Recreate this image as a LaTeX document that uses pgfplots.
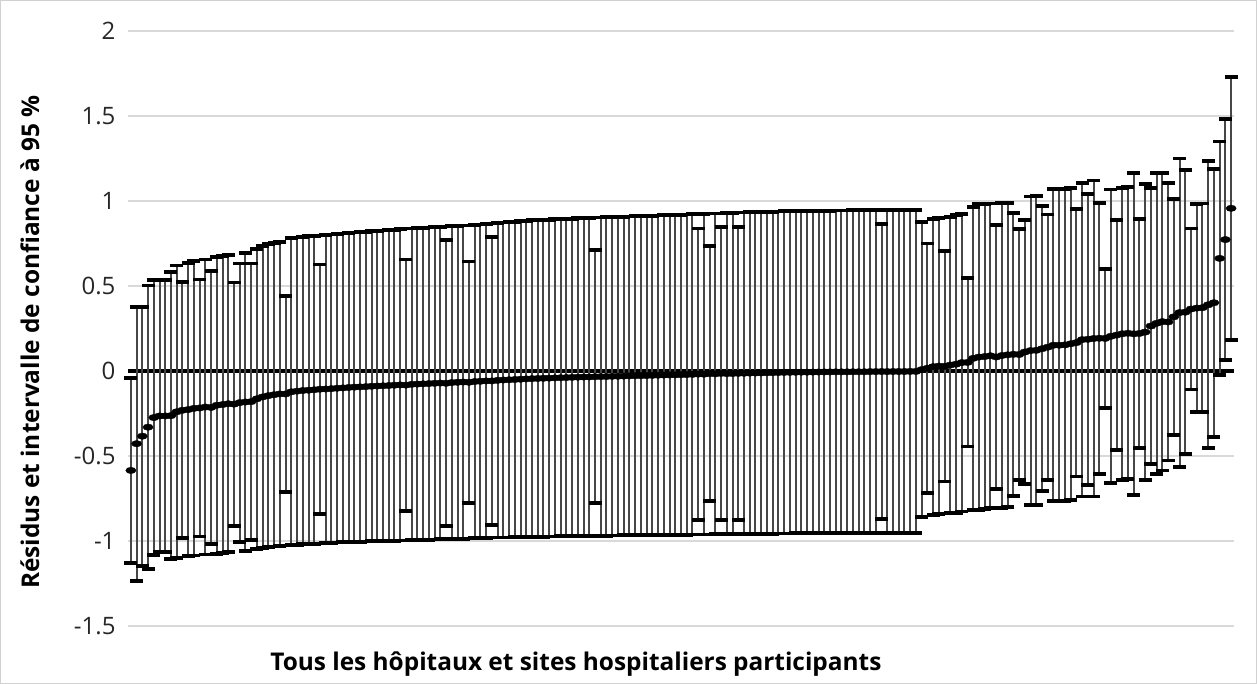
\documentclass[border=0pt]{standalone}
\usepackage{fontspec}
\setmainfont{Open Sans}
\usepackage{pgfplots}
\usepackage{pgfplotstable}
\pgfplotsset{compat=1.18}
\pgfplotstableread[row sep=\\]{
i U L\\
1 -0.040 -1.130\\ 2 0.378 -1.233\\ 3 0.378 -1.145\\ 4 0.503 -1.164\\ 5 0.534 -1.082\\
6 0.534 -1.063\\ 7 0.534 -1.063\\ 8 0.580 -1.105\\ 9 0.620 -1.100\\ 10 0.522 -0.984\\
11 0.636 -1.090\\ 12 0.645 -1.085\\ 13 0.538 -0.973\\ 14 0.656 -1.080\\ 15 0.587 -1.016\\
16 0.672 -1.075\\ 17 0.675 -1.070\\ 18 0.680 -1.065\\ 19 0.520 -0.910\\ 20 0.632 -1.004\\
21 0.695 -1.060\\ 22 0.632 -0.992\\ 23 0.718 -1.045\\ 24 0.735 -1.040\\ 25 0.745 -1.035\\
26 0.753 -1.032\\ 27 0.760 -1.030\\ 28 0.440 -0.710\\ 29 0.780 -1.025\\ 30 0.785 -1.022\\
31 0.790 -1.020\\ 32 0.792 -1.018\\ 33 0.795 -1.016\\ 34 0.626 -0.840\\ 35 0.800 -1.012\\
36 0.803 -1.011\\ 37 0.806 -1.009\\ 38 0.809 -1.008\\ 39 0.812 -1.006\\ 40 0.815 -1.005\\
41 0.817 -1.004\\ 42 0.819 -1.003\\ 43 0.822 -1.002\\ 44 0.824 -1.001\\ 45 0.826 -1.000\\
46 0.828 -0.999\\ 47 0.831 -0.998\\ 48 0.833 -0.997\\ 49 0.656 -0.822\\ 50 0.838 -0.995\\
51 0.840 -0.994\\ 52 0.842 -0.993\\ 53 0.844 -0.992\\ 54 0.846 -0.991\\ 55 0.848 -0.990\\
56 0.769 -0.914\\ 57 0.852 -0.988\\ 58 0.854 -0.987\\ 59 0.856 -0.986\\ 60 0.644 -0.777\\
61 0.860 -0.984\\ 62 0.862 -0.983\\ 63 0.865 -0.982\\ 64 0.789 -0.906\\ 65 0.870 -0.980\\
66 0.873 -0.979\\ 67 0.876 -0.979\\ 68 0.878 -0.978\\ 69 0.881 -0.978\\ 70 0.884 -0.977\\
71 0.886 -0.976\\ 72 0.887 -0.975\\ 73 0.889 -0.975\\ 74 0.890 -0.974\\ 75 0.892 -0.973\\
76 0.893 -0.972\\ 77 0.895 -0.972\\ 78 0.896 -0.971\\ 79 0.898 -0.971\\ 80 0.899 -0.970\\
81 0.900 -0.970\\ 82 0.710 -0.777\\ 83 0.903 -0.969\\ 84 0.904 -0.969\\ 85 0.905 -0.968\\
86 0.906 -0.968\\ 87 0.907 -0.967\\ 88 0.909 -0.967\\ 89 0.910 -0.966\\ 90 0.911 -0.966\\
91 0.912 -0.966\\ 92 0.913 -0.965\\ 93 0.915 -0.965\\ 94 0.916 -0.964\\ 95 0.917 -0.964\\
96 0.918 -0.964\\ 97 0.919 -0.963\\ 98 0.921 -0.963\\ 99 0.922 -0.962\\ 100 0.838 -0.875\\
101 0.924 -0.962\\ 102 0.736 -0.767\\ 103 0.927 -0.961\\ 104 0.847 -0.875\\ 105 0.929 -0.960\\
106 0.930 -0.960\\ 107 0.847 -0.875\\ 108 0.932 -0.959\\ 109 0.933 -0.958\\ 110 0.934 -0.958\\
111 0.935 -0.958\\ 112 0.936 -0.957\\ 113 0.937 -0.957\\ 114 0.938 -0.956\\ 115 0.939 -0.956\\
116 0.940 -0.956\\ 117 0.940 -0.955\\ 118 0.941 -0.955\\ 119 0.941 -0.955\\ 120 0.942 -0.955\\
121 0.942 -0.954\\ 122 0.943 -0.954\\ 123 0.943 -0.954\\ 124 0.944 -0.954\\ 125 0.944 -0.954\\
126 0.944 -0.954\\ 127 0.945 -0.954\\ 128 0.945 -0.954\\ 129 0.945 -0.954\\ 130 0.946 -0.953\\
131 0.946 -0.953\\ 132 0.863 -0.869\\ 133 0.946 -0.953\\ 134 0.947 -0.953\\ 135 0.947 -0.953\\
136 0.947 -0.953\\ 137 0.948 -0.953\\ 138 0.948 -0.953\\ 139 0.875 -0.859\\ 140 0.750 -0.718\\
141 0.896 -0.845\\ 142 0.900 -0.842\\ 143 0.705 -0.650\\ 144 0.906 -0.836\\ 145 0.916 -0.836\\
146 0.925 -0.826\\ 147 0.545 -0.444\\ 148 0.965 -0.816\\ 149 0.980 -0.816\\ 150 0.980 -0.810\\
151 0.985 -0.806\\ 152 0.860 -0.695\\ 153 0.988 -0.806\\ 154 0.990 -0.800\\ 155 0.930 -0.734\\
156 0.834 -0.640\\ 157 0.886 -0.663\\ 158 1.027 -0.787\\ 159 1.030 -0.787\\ 160 0.970 -0.708\\
161 0.920 -0.640\\ 162 1.070 -0.767\\ 163 1.070 -0.767\\ 164 1.072 -0.765\\ 165 1.078 -0.758\\
166 0.955 -0.621\\ 167 1.107 -0.738\\ 168 1.043 -0.670\\ 169 1.120 -0.738\\ 170 0.990 -0.605\\
171 0.600 -0.217\\ 172 1.068 -0.660\\ 173 0.887 -0.465\\ 174 1.078 -0.640\\ 175 1.080 -0.636\\
176 1.166 -0.729\\ 177 0.893 -0.451\\ 178 1.098 -0.640\\ 179 1.078 -0.549\\ 180 1.166 -0.605\\
181 1.166 -0.585\\ 182 1.104 -0.527\\ 183 1.014 -0.377\\ 184 1.250 -0.563\\ 185 1.180 -0.488\\
186 0.838 -0.109\\ 187 0.980 -0.240\\ 188 0.985 -0.240\\ 189 1.234 -0.455\\ 190 1.190 -0.387\\
191 1.350 -0.025\\ 192 1.480 0.066\\ 193 1.730 0.184\\
}\hosp
\begin{document}
\begin{tikzpicture}
\draw[black!18, line width=1pt] (0.5pt,0.5pt) rectangle (1256.5pt,683.5pt);
\begin{axis}[
  at={(128pt,58pt)}, anchor=south west,
  width=1106pt, height=595pt, scale only axis,
  xmin=0.5, xmax=193.5, ymin=-1.5, ymax=2,
  clip=false,
  axis line style={draw=none},
  tick style={draw=none},
  xtick=\empty,
  ytick={-1.5,-1,-0.5,0,0.5,1,1.5,2},
  yticklabels={-1.5,-1,-0.5,0,0.5,1,1.5,2},
  yticklabel shift=9pt,
  ymajorgrids,
  major grid style={black!15, line width=1.2pt},
  y tick label style={font=\fontsize{24}{28}\selectfont, text=black!85},
  xlabel={Tous les hôpitaux et sites hospitaliers participants},
  ylabel={Résidus et intervalle de confiance à 95 \%},
  xlabel style={font=\fontsize{24.4}{28}\selectfont\bfseries, at={(axis description cs:0.405,-0.064)}, anchor=center},
  ylabel style={font=\fontsize{24.4}{28}\selectfont\bfseries, at={(axis description cs:-0.0886,0.477)}, anchor=center},
]
\addplot[black, line width=3.5pt] coordinates {(0.5,0) (193.5,0)};
\addplot[only marks, mark=none,
  error bars/.cd, y dir=both, y explicit, error mark=none,
  error bar style={line width=2pt, black!72}]
  table[x=i, y expr=(\thisrow{U}+\thisrow{L})/2, y error expr=(\thisrow{U}-\thisrow{L})/2] {\hosp};
\addplot[only marks, mark=-, mark size=6.5pt, mark options={line width=3.8pt, black}]
  table[x=i, y=U] {\hosp};
\addplot[only marks, mark=-, mark size=6.5pt, mark options={line width=3.8pt, black}]
  table[x=i, y=L] {\hosp};
\addplot[only marks, mark=*, mark size=3.2pt, mark options={xscale=1.6, black, fill=black}]
  table[x=i, y expr=(\thisrow{U}+\thisrow{L})/2] {\hosp};
\end{axis}
\end{tikzpicture}
\end{document}
